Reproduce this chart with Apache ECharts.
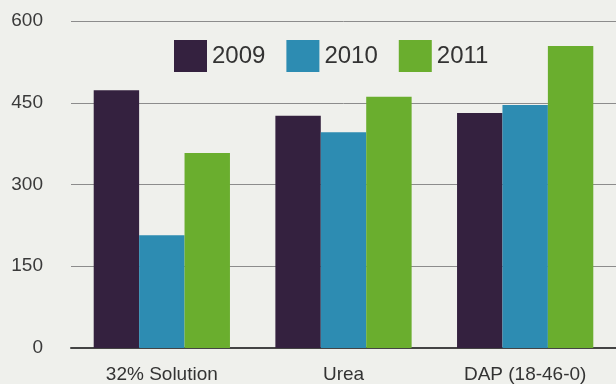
<!DOCTYPE html>
<html>
<head>
<meta charset="utf-8">
<script src="https://cdn.jsdelivr.net/npm/echarts@6/dist/echarts.min.js"></script>
<style>
  html, body { margin: 0; padding: 0; background: #eff0ec; }
  #chart { width: 616px; height: 384px; }
</style>
</head>
<body>
<div id="chart"></div>
<script>
// data
const categories = ['32% Solution', 'Urea', 'DAP (18-46-0)']
const years = ['2009', '2010', '2011']
const values2009 = [473, 426, 431]
const values2010 = [207, 396, 446]
const values2011 = [358, 461, 554]
const yTicks = [0, 150, 300, 450, 600]

const colors = ['#34213f', '#2d8cb2', '#6aae2e']
const font = '"Liberation Sans", Arial, sans-serif'

const chart = echarts.init(document.getElementById('chart'))

const option = {
  backgroundColor: '#eff0ec',
  animation: false,
  color: colors,
  textStyle: { fontFamily: font },
  legend: {
    data: years,
    left: 169,
    top: 35,
    itemWidth: 33,
    itemHeight: 32,
    itemGap: 21,
    icon: 'rect',
    textStyle: { fontSize: 24, color: '#333', fontFamily: font }
  },
  grid: {
    left: 71,
    right: 0,
    top: 21,
    bottom: 36
  },
  xAxis: {
    type: 'category',
    data: categories,
    axisLine: { lineStyle: { color: '#444', width: 2 } },
    axisTick: { show: false },
    axisLabel: { fontSize: 19, color: '#333', margin: 17, fontFamily: font }
  },
  yAxis: {
    type: 'value',
    min: yTicks[0],
    max: yTicks[yTicks.length - 1],
    interval: yTicks[1] - yTicks[0],
    axisLine: { show: false },
    axisTick: { show: false },
    axisLabel: { fontSize: 19, color: '#3a3a3a', margin: 28, fontFamily: font },
    splitLine: { lineStyle: { color: '#8c8c8c', width: 1 } }
  },
  series: [
    { name: years[0], type: 'bar', data: values2009, barGap: '0%', barCategoryGap: '25%' },
    { name: years[1], type: 'bar', data: values2010, barGap: '0%', barCategoryGap: '25%' },
    { name: years[2], type: 'bar', data: values2011, barGap: '0%', barCategoryGap: '25%' }
  ]
}

chart.setOption(option)
</script>
</body>
</html>
